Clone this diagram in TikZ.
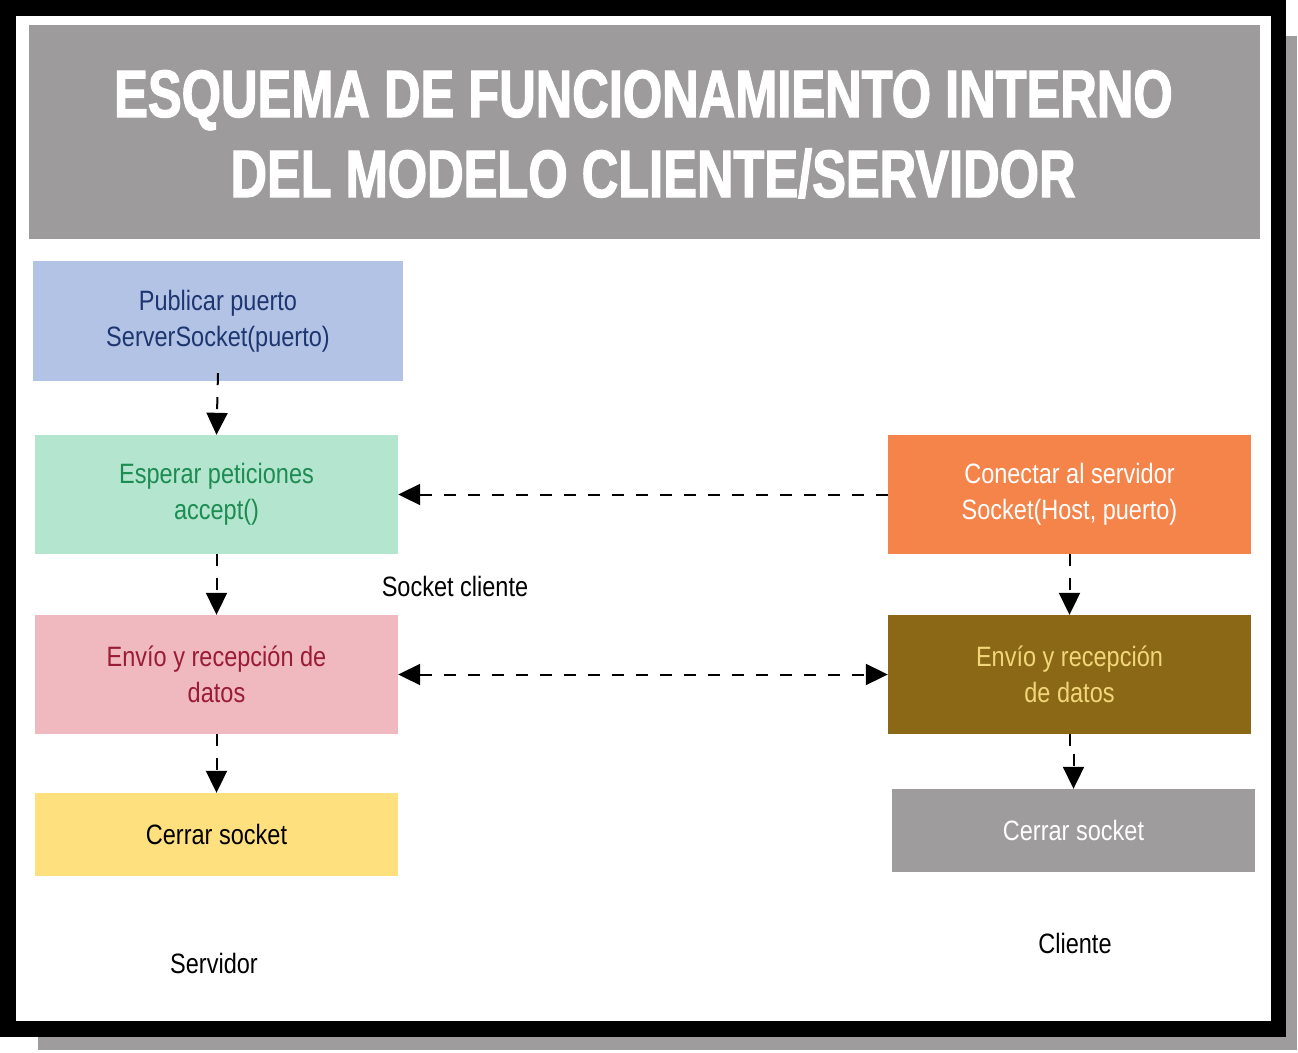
\documentclass[tikz,border=0pt]{standalone}
\usepackage{fontspec}
\setmainfont{Liberation Sans}[FakeStretch=0.84]
\newfontfamily\titlefont{Liberation Sans}[FakeStretch=0.755,FakeBold=1.8]
\usetikzlibrary{arrows.meta}
\definecolor{titlegray}{HTML}{9D9B9C}
\definecolor{bluefill}{HTML}{B3C3E6}
\definecolor{bluetext}{HTML}{1E3670}
\definecolor{greenfill}{HTML}{B4E5CF}
\definecolor{greentext}{HTML}{1C8C52}
\definecolor{pinkfill}{HTML}{F0B9C0}
\definecolor{pinktext}{HTML}{9A1B35}
\definecolor{yellowfill}{HTML}{FFE07E}
\definecolor{orangefill}{HTML}{F5844A}
\definecolor{brownfill}{HTML}{8A6815}
\definecolor{browntext}{HTML}{F2D77A}
\definecolor{grayfill}{HTML}{9E9C9D}
\tikzset{
  box/.style={inner sep=0pt, minimum width=363pt, minimum height=119pt, align=center,
    font=\fontsize{28pt}{36pt}\selectfont},
  lbl/.style={inner sep=0pt, font=\fontsize{28pt}{36pt}\selectfont, text=black},
  ttl/.style={text=white, inner sep=0pt, font=\titlefont\bfseries\fontsize{67pt}{80pt}\selectfont},
  conn/.style={line width=2pt, dash pattern=on 12pt off 12pt, draw=black},
  tip/.style={-{Triangle[length=22pt,width=21pt]}},
  tips/.style={{Triangle[length=22pt,width=21pt]}-{Triangle[length=22pt,width=21pt]}}
}
\begin{document}
\begin{tikzpicture}[x=1pt,y=-1pt]
\useasboundingbox (0,0) rectangle (1298,1052);
% frame with shadow
\fill[grayfill] (38,36) rectangle (1297,1050);
\fill[black] (0,0) rectangle (1286,1037);
\fill[white] (16,16) rectangle (1271,1021);
% title
\node[fill=titlegray, minimum width=1231pt, minimum height=214pt, inner sep=0pt] (title) at (644.5,132) {};
\node[ttl, anchor=base] (title1) at (643.5,117) {ESQUEMA DE FUNCIONAMIENTO INTERNO};
\node[ttl, anchor=base] (title2) at (653,197) {DEL MODELO CLIENTE/SERVIDOR};
% server boxes
\node[box, fill=bluefill, text=bluetext, minimum width=370pt, minimum height=120pt] (pub) at (218,321) {Publicar puerto\\ServerSocket(puerto)};
\node[box, fill=greenfill, text=greentext] (esp) at (216.5,494.5) {Esperar peticiones\\accept()};
\node[box, fill=pinkfill, text=pinktext] (env) at (216.5,674.5) {Envío y recepción de\\datos};
\node[box, fill=yellowfill, text=black, minimum height=83pt] (cer) at (216.5,834.5) {Cerrar socket};
% client boxes
\node[box, fill=orangefill, text=white] (con) at (1069.5,494.5) {Conectar al servidor\\Socket(Host, puerto)};
\node[box, fill=brownfill, text=browntext] (envc) at (1069.5,674.5) {Envío y recepción\\de datos};
\node[box, fill=grayfill, text=white, minimum height=83pt] (cerc) at (1073.5,830.5) {Cerrar socket};
% labels
\node[lbl] (sockcl) at (455,586) {Socket cliente};
\node[lbl] (serv) at (214,963) {Servidor};
\node[lbl] (clie) at (1075,943) {Cliente};
% connectors
\draw[conn, tip] ([yshift=8pt]pub.south) -- (esp.north);
\draw[conn, tip] (esp.south) -- (env.north);
\draw[conn, tip] (env.south) -- (cer.north);
\draw[conn, tip] (con.west) -- (esp.east);
\draw[conn, tips] (env.east) -- (envc.west);
\draw[conn, tip] (con.south) -- (envc.north);
\draw[conn, tip] (envc.south) -- ++(0,16) -| (cerc.north);
\end{tikzpicture}
\end{document}
